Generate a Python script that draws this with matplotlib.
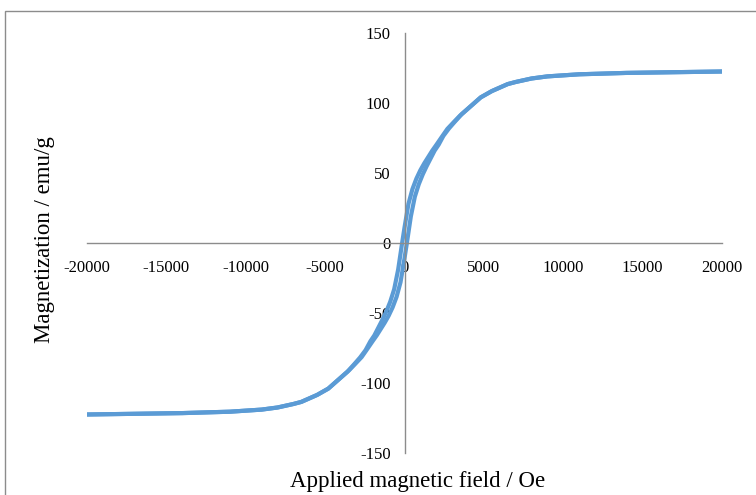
import matplotlib
matplotlib.use("Agg")
import matplotlib.pyplot as plt
from matplotlib.patches import Rectangle

# descending branch (from +20000 Oe down to -20000 Oe)
h_down = [20000, 17000, 14000, 11000, 9000, 8000, 7000, 6500, 6000, 5500, 4800,
          4000, 3500, 3100, 2700, 2350, 2000, 1750, 1500, 1250, 1000, 750, 500,
          250, 0, -150, -400, -650, -900, -1150, -1400, -1650, -1900, -2150,
          -2450, -2800, -3200, -3600, -4000, -4800, -5500, -6000, -6500, -7000,
          -8000, -9000, -11000, -14000, -17000, -20000]
m_down = [122.5, 122, 121.5, 120.5, 119, 117.5, 115, 113.5, 111, 108.5, 104,
          96, 91, 86.3, 81.5, 75.8, 70, 66, 61.5, 57, 52, 46, 38.5,
          28, 11, 0, -19, -33, -42, -49, -55, -60.5, -66, -70.2,
          -76.5, -81.8, -87, -92, -96, -104, -108.5, -111, -113.5, -115,
          -117.5, -119, -120.5, -121.5, -122, -122.5]

# ascending branch (from -20000 Oe up to +20000 Oe)
h_up = [-20000, -17000, -14000, -11000, -9000, -8000, -7000, -6500, -6000, -5500, -4800,
        -4000, -3500, -3100, -2700, -2350, -2000, -1750, -1500, -1250, -1000, -750, -500,
        -250, 0, 150, 400, 650, 900, 1150, 1400, 1650, 1900, 2150,
        2450, 2800, 3200, 3600, 4000, 4800, 5500, 6000, 6500, 7000,
        8000, 9000, 11000, 14000, 17000, 20000]
m_up = [-122.5, -122, -121.5, -120.5, -119, -117.5, -115, -113.5, -111, -108.5, -104,
        -96, -91, -86.3, -81.5, -75.8, -70, -66, -61.5, -57, -52, -46, -38.5,
        -28, -11, 0, 19, 33, 42, 49, 55, 60.5, 66, 70.2,
        76.5, 81.8, 87, 92, 96, 104, 108.5, 111, 113.5, 115,
        117.5, 119, 120.5, 121.5, 122, 122.5]

xticks = [-20000, -15000, -10000, -5000, 0, 5000, 10000, 15000, 20000]
yticks = [-150, -100, -50, 0, 50, 100, 150]

plt.rcParams['font.family'] = ['Liberation Serif', 'DejaVu Serif']

fig = plt.figure(figsize=(7.56, 4.95), dpi=100)
ax = fig.add_axes([87/756, 1-453/495, (722-87)/756, (453-33)/495])

blue = '#5B9BD5'
ax.plot(h_down, m_down, color=blue, lw=3, solid_joinstyle='round')
ax.plot(h_up, m_up, color=blue, lw=3, solid_joinstyle='round')

ax.set_xlim(-20000, 20000)
ax.set_ylim(-150, 150)
ax.set_xticks(xticks)
ax.set_yticks(yticks)
ax.set_xticklabels([str(v) for v in xticks])
ax.set_yticklabels([str(v) for v in yticks])

for s in ['top', 'right']:
    ax.spines[s].set_visible(False)
ax.spines['left'].set_position(('data', 0))
ax.spines['bottom'].set_position(('data', 0))
for s in ['left', 'bottom']:
    ax.spines[s].set_color('#8c8c8c')
    ax.spines[s].set_linewidth(1)
ax.tick_params(length=0, labelsize=12, colors='black')
ax.tick_params(axis='x', pad=12)
ax.tick_params(axis='y', pad=10)
ax.patch.set_visible(False)

fig.text(418/756, 1-481/495, 'Applied magnetic field / Oe', fontsize=16.5,
         ha='center', va='center')
fig.text(45/756, 1-240/495, 'Magnetization / emu/g', fontsize=16.5,
         ha='center', va='center', rotation=90)

# outer chart frame
fig.patches.append(Rectangle((5/756, -0.2), 1.2, 1 - 11/495 + 0.2,
                             transform=fig.transFigure, fill=False,
                             edgecolor='#8c8c8c', lw=1))

fig.savefig('out.png', dpi=100)
